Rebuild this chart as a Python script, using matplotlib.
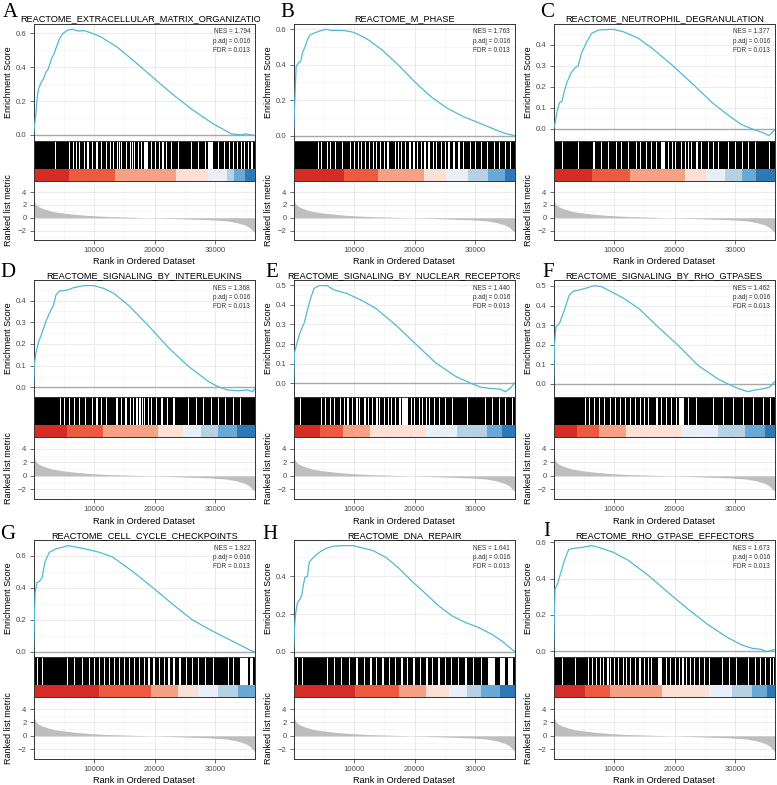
import numpy as np
import matplotlib
matplotlib.use("Agg")
import matplotlib.pyplot as plt
from matplotlib.ticker import MultipleLocator, FixedLocator
from matplotlib.transforms import Bbox, TransformedBbox

# ---- data (ranks in thousands) ----
N_RANK = 36.6

LETTERS = ['A', 'B', 'C', 'D', 'E', 'F', 'G', 'H', 'I']
TITLES = ['REACTOME_EXTRACELLULAR_MATRIX_ORGANIZATION', 'REACTOME_M_PHASE',
          'REACTOME_NEUTROPHIL_DEGRANULATION', 'REACTOME_SIGNALING_BY_INTERLEUKINS',
          'REACTOME_SIGNALING_BY_NUCLEAR_RECEPTORS', 'REACTOME_SIGNALING_BY_RHO_GTPASES',
          'REACTOME_CELL_CYCLE_CHECKPOINTS', 'REACTOME_DNA_REPAIR',
          'REACTOME_RHO_GTPASE_EFFECTORS']
NES = [1.794, 1.763, 1.377, 1.368, 1.440, 1.462, 1.922, 1.641, 1.673]
PADJ = [0.016] * 9
FDR = [0.013] * 9
ES_STEP = [0.2, 0.2, 0.1, 0.1, 0.1, 0.1, 0.2, 0.2, 0.2]

ES_RANK_A = [0, 0.44, 0.60, 0.82, 1.25, 1.63, 2.06, 2.44, 2.98, 3.41, 3.79, 4.33, 4.87, 5.68, 6.49,
             7.30, 8.38, 9.46, 11.08, 13.78, 16.49, 19.73, 22.97, 26.21, 29.46, 32.70, 34.32, 35.13,
             35.94, 36.6]
ES_A = [0, 0.14, 0.22, 0.27, 0.31, 0.33, 0.37, 0.39, 0.45, 0.48, 0.52, 0.57, 0.60, 0.62, 0.624,
        0.614, 0.616, 0.604, 0.58, 0.52, 0.44, 0.34, 0.24, 0.15, 0.07, 0.006, 0.0, 0.006, 0.0, -0.005]

ES_RANK_B = [0, 0.43, 0.8, 1.2, 1.5, 1.9, 2.4, 2.8, 3.5, 4.3, 5.4, 6.2, 7.6, 8.6, 9.7, 10.8, 12.4,
             14.6, 17.3, 20.0, 22.7, 25.4, 28.1, 30.8, 33.5, 34.9, 36.6]
ES_B = [0, 0.39, 0.41, 0.42, 0.47, 0.50, 0.55, 0.57, 0.58, 0.59, 0.60, 0.594, 0.594, 0.592, 0.585,
        0.57, 0.54, 0.485, 0.40, 0.305, 0.22, 0.155, 0.107, 0.07, 0.032, 0.013, 0.0]

ES_RANK_C = [0, 0.2, 0.6, 1.0, 1.4, 1.8, 2.2, 3.0, 3.6, 4.1, 4.6, 5.5, 6.3, 7.5, 9.9, 11.6, 14.0,
             16.4, 19.7, 23.0, 26.2, 29.1, 31.1, 33.1, 34.8, 35.6, 36.0, 36.6]
ES_C = [0, 0.02, 0.085, 0.125, 0.13, 0.18, 0.22, 0.27, 0.29, 0.30, 0.357, 0.413, 0.453, 0.469,
        0.472, 0.46, 0.43, 0.38, 0.30, 0.213, 0.125, 0.06, 0.02, -0.003, -0.02, -0.032, -0.02,
        -0.003]

ES_RANK_D = [0, 0.16, 0.4, 0.8, 1.4, 2.0, 2.6, 3.3, 3.7, 4.3, 5.5, 6.7, 8.4, 10.0, 11.6, 13.3, 15.7,
             19.0, 22.3, 25.6, 28.9, 30.5, 32.1, 33.8, 35.4, 36.2, 36.6]
ES_D = [0, 0.11, 0.16, 0.206, 0.25, 0.30, 0.34, 0.378, 0.425, 0.444, 0.448, 0.46, 0.469, 0.469,
        0.456, 0.433, 0.378, 0.284, 0.183, 0.097, 0.027, 0.003, -0.012, -0.016, -0.012, -0.02,
        -0.005]

ES_RANK_E = [0, 0.16, 0.6, 1.1, 1.8, 2.2, 2.8, 3.4, 4.3, 5.5, 6.7, 8.8, 11.2, 13.7, 17.0, 20.2,
             23.5, 26.8, 29.3, 30.9, 32.5, 34.2, 35.0, 35.8, 36.6]
ES_E = [0, 0.156, 0.208, 0.26, 0.31, 0.363, 0.43, 0.484, 0.498, 0.498, 0.476, 0.458, 0.424, 0.38,
        0.294, 0.2, 0.104, 0.035, 0.0, -0.02, -0.026, -0.03, -0.043, -0.026, 0.003]

ES_RANK_F = [0, 0.16, 0.4, 1.0, 1.8, 2.6, 3.3, 4.2, 5.5, 6.7, 7.9, 9.6, 11.6, 14.1, 17.3, 20.6,
             23.9, 27.1, 28.8, 30.4, 32.1, 33.3, 34.5, 35.7, 36.6]
ES_F = [0, 0.197, 0.29, 0.31, 0.377, 0.454, 0.474, 0.479, 0.49, 0.502, 0.497, 0.47, 0.437, 0.385,
        0.29, 0.197, 0.094, 0.026, 0.0, -0.022, -0.04, -0.031, -0.026, -0.017, 0.012]

ES_RANK_G = [0, 0.27, 0.55, 1.0, 1.4, 1.9, 2.6, 3.6, 4.6, 5.7, 7.1, 8.7, 10.9, 13.1, 16.4, 19.7,
             23.0, 26.2, 29.5, 32.8, 36.1, 36.6]
ES_G = [0, 0.37, 0.43, 0.44, 0.46, 0.56, 0.62, 0.64, 0.65, 0.662, 0.652, 0.64, 0.62, 0.59, 0.50,
        0.40, 0.296, 0.20, 0.13, 0.067, 0.004, 0.0]

ES_RANK_H = [0, 0.16, 0.33, 0.65, 1.1, 1.4, 1.6, 1.9, 2.3, 2.6, 3.0, 3.6, 4.4, 5.5, 6.6, 8.2, 9.8,
             11.5, 13.1, 15.3, 17.5, 19.7, 21.9, 24.0, 26.2, 28.4, 30.6, 32.8, 34.4, 36.1, 36.6]
ES_H = [0, 0.12, 0.2, 0.26, 0.28, 0.306, 0.35, 0.395, 0.40, 0.475, 0.49, 0.51, 0.53, 0.55, 0.56,
        0.563, 0.563, 0.55, 0.537, 0.50, 0.44, 0.37, 0.306, 0.243, 0.19, 0.155, 0.128, 0.092,
        0.057, 0.012, 0.0]

ES_RANK_I = [0, 0.25, 0.65, 1.15, 1.8, 2.5, 3.4, 4.7, 6.3, 7.5, 9.9, 12.4, 15.7, 18.9, 22.2, 25.4,
             28.7, 31.1, 32.8, 34.4, 35.2, 36.6]
ES_I = [0, 0.343, 0.37, 0.426, 0.5, 0.56, 0.567, 0.572, 0.582, 0.572, 0.545, 0.5, 0.417, 0.325,
        0.233, 0.15, 0.077, 0.035, 0.017, 0.01, -0.002, 0.01]

# stretches of the ranked list with no gene-set hit: (start, width)
GAPS_A = [(1.2, .12), (3.6, .12), (5.9, .2), (6.5, .15), (7.0, .15), (7.5, .2), (8.4, .15),
          (8.9, .2), (9.6, .15), (10.4, .2), (11.2, .15), (12.0, .2), (12.6, .15), (13.1, .2),
          (13.8, .15), (14.2, .12), (14.5, .15), (14.9, .12), (15.3, .15), (15.9, .15),
          (16.3, .12), (16.6, .15), (17.2, .15), (17.8, .15), (18.3, .7), (19.4, .15), (20.0, .2),
          (20.7, .15), (21.3, .2), (21.9, .15), (22.7, .2), (23.3, .15), (23.8, .2), (24.3, .15),
          (26.0, .2), (27.2, .15), (28.4, .15), (28.9, .8), (30.5, .2), (31.5, .15), (32.3, .2),
          (33.0, .15), (33.6, .2), (34.3, .15), (34.8, .2), (35.4, .15), (36.0, .2)]
GAPS_B = [(1.5, .1), (4.0, .15), (4.6, .12), (5.5, .15), (6.1, .12), (6.8, .15), (7.3, .12),
          (8.0, .15), (8.8, .12), (9.3, .15), (10.0, .12), (10.6, .15), (11.2, .12), (11.8, .15),
          (12.5, .2), (13.1, .15), (13.7, .12), (14.3, .2), (14.9, .15), (15.5, .2), (16.2, .15),
          (16.7, .2), (17.2, .25), (17.8, .15), (18.4, .2), (19.1, .3), (19.8, .2), (20.4, .2),
          (21.0, .25), (21.6, .3), (22.3, .2), (23.0, .25), (23.6, .15), (24.3, .3), (25.0, .2),
          (25.6, .2), (26.4, .25), (27.2, .3), (28.0, .2), (29.2, .2), (30.0, .15), (31.0, .2),
          (32.0, .2), (33.2, .15), (34.0, .2), (35.0, .15), (35.8, .2)]
GAPS_C = [(1.4, .12), (4.0, .15), (6.6, .2), (7.8, .15), (9.0, .2), (10.3, .15), (11.1, .15),
          (12.3, .2), (13.6, .15), (14.3, .15), (15.3, .2), (16.1, .15), (16.9, .2), (17.8, .7),
          (18.9, .2), (19.6, .15), (20.1, .2), (21.0, .2), (21.7, .15), (22.2, .2), (22.8, .15),
          (23.6, .2), (24.4, .15), (25.6, .15), (26.4, .15), (27.2, .15), (28.1, .12), (28.9, .15),
          (30.0, .12), (31.1, .15), (32.2, .12), (33.3, .15), (34.4, .12), (35.6, .15)]
GAPS_D = [(4.4, .15), (5.1, .15), (5.9, .15), (6.7, .15), (7.5, .15), (8.5, .2), (9.6, .15),
          (10.4, .2), (11.2, .15), (12.0, .2), (12.9, .15), (13.7, .2), (14.5, .15), (15.1, .3),
          (15.9, .2), (16.4, .2), (16.7, .12), (17.0, .2), (17.5, .2), (17.9, .12), (18.2, .2),
          (18.9, .2), (19.4, .25), (20.2, .2), (21.1, .25), (22.1, .2), (23.1, .2), (24.3, .15),
          (25.6, .15), (26.8, .15), (28.0, .15), (29.3, .15), (30.5, .15), (31.7, .15),
          (33.0, .12), (34.2, .15), (35.4, .12)]
GAPS_E = [(1.1, .1), (4.6, .15), (5.2, .15), (6.0, .15), (6.7, .15), (7.7, .2), (8.3, .15),
          (8.9, .2), (9.6, .15), (10.4, .2), (10.9, .15), (11.7, .2), (12.3, .15), (13.0, .2),
          (13.7, .2), (14.2, .15), (14.9, .2), (15.6, .2), (16.1, .15), (16.8, .2), (17.5, .2),
          (18.0, .9), (19.4, .2), (19.9, .2), (20.7, .2), (21.3, .15), (21.9, .2), (22.4, .15),
          (23.2, .15), (24.0, .15), (25.1, .15), (26.2, .15), (27.3, .12), (28.7, .15),
          (30.1, .12), (31.7, .15), (32.8, .12), (33.9, .15), (35.0, .12), (36.1, .15)]
GAPS_F = [(2.2, .1), (5.2, .15), (5.9, .15), (6.7, .15), (7.5, .15), (8.4, .15), (9.3, .2),
          (10.2, .15), (11.0, .2), (11.8, .15), (12.6, .2), (13.4, .15), (14.3, .2), (14.9, .15),
          (15.6, .2), (16.2, .15), (17.0, .2), (17.8, .2), (18.6, .2), (19.4, .2), (20.2, .2),
          (20.8, .7), (22.3, .15), (23.5, .15), (24.8, .15), (26.4, .15), (28.0, .12),
          (29.7, .15), (31.3, .12), (32.9, .15), (34.6, .12), (35.8, .15)]
GAPS_G = [(0.6, .1), (1.4, .1), (2.2, .1), (3.0, .12), (4.3, .12), (5.5, .12), (6.7, .15),
          (8.0, .15), (9.2, .15), (10.0, .2), (10.8, .15), (11.6, .2), (12.5, .15), (13.3, .2),
          (14.1, .15), (14.9, .2), (15.7, .2), (16.6, .2), (17.4, .2), (18.2, .25), (19.0, .2),
          (19.8, .25), (20.7, .2), (21.5, .25), (22.3, .2), (23.1, .25), (24.1, .2), (25.2, .2),
          (26.2, .2), (27.2, .2), (28.4, .15), (29.7, .15), (30.9, .15), (32.1, .15), (33.0, .15),
          (34.2, 1.2), (35.8, .4)]
GAPS_H = [(0.6, .1), (1.4, .1), (2.2, .1), (3.2, .1), (4.3, .12), (5.5, .12), (6.7, .12),
          (7.9, .15), (9.2, .15), (10.4, .2), (11.6, .15), (12.7, .2), (13.7, .15), (14.7, .2),
          (15.7, .2), (16.8, .2), (17.8, .25), (18.8, .2), (19.8, .25), (20.9, .2), (21.9, .25),
          (22.9, .2), (23.9, .25), (25.0, .2), (26.0, .2), (27.2, .2), (28.4, .2), (29.7, .2),
          (30.9, .2), (32.1, 1.2), (34.2, .8), (35.4, .8)]
GAPS_I = [(1.4, .1), (3.6, .1), (5.7, .15), (6.3, .15), (7.0, .15), (7.7, .15), (8.2, .15),
          (8.9, .2), (9.3, .15), (10.0, .2), (10.7, .15), (11.5, .2), (12.0, .15), (12.6, .2),
          (13.4, .15), (14.2, .2), (14.9, .15), (15.6, .2), (16.1, .15), (17.2, .8), (18.6, .2),
          (19.3, .15), (20.0, .2), (20.7, .15), (21.3, .2), (21.9, .15), (22.5, .2), (23.2, .15),
          (24.0, .15), (24.9, .15), (25.7, .15), (26.8, .12), (27.9, .15), (29.0, .12),
          (30.1, .15), (31.1, .12), (32.2, .15), (33.3, .12), (34.2, .15), (35.0, .12),
          (35.8, .15), (36.3, .1)]

# colour-bin edges of the ranked list
BIN_EDGES_A = [0, 5.8, 13.4, 23.5, 28.8, 32.0, 33.1, 34.9, 36.6]
BIN_EDGES_B = [0, 8.4, 13.9, 21.5, 25.2, 28.9, 32.1, 35.0, 36.6]
BIN_EDGES_C = [0, 6.3, 12.6, 21.7, 25.2, 28.3, 31.1, 33.5, 36.6]
BIN_EDGES_D = [0, 5.5, 11.5, 20.6, 24.7, 27.6, 30.5, 33.6, 36.6]
BIN_EDGES_E = [0, 4.4, 8.2, 12.6, 21.9, 27.0, 32.0, 34.4, 36.6]
BIN_EDGES_F = [0, 3.9, 7.5, 12.0, 21.0, 27.2, 31.7, 35.0, 36.6]
BIN_EDGES_G = [0, 10.8, 19.4, 23.9, 27.2, 30.5, 33.8, 36.6]
BIN_EDGES_H = [0, 10.1, 17.5, 21.9, 25.7, 28.6, 30.9, 34.2, 36.6]
BIN_EDGES_I = [0, 5.2, 9.3, 18.0, 25.7, 29.5, 32.8, 35.2, 36.6]
BIN_COLORS = ['#D42C26', '#EC5A40', '#F6A184', '#FCE0D3', '#E9EEF8', '#B7D1E4', '#6AA9D3', '#2F78B8']

# ranked list metric (shared)
METRIC_RANK = [0, 0.15, 0.4, 0.8, 1.4, 2.2, 3.2, 4.6, 6.5, 9.2, 12.4, 16.2, 19.5, 22.7, 25.9, 29.2,
               31.9, 33.5, 34.9, 35.7, 36.2, 36.6]
METRIC = [3.1, 2.6, 2.1, 1.76, 1.5, 1.24, 0.98, 0.78, 0.57, 0.36, 0.2, 0.1, 0.0, -0.1, -0.2, -0.3,
          -0.47, -0.73, -1.1, -1.5, -2.0, -2.3]

ES_RANKS = [ES_RANK_A, ES_RANK_B, ES_RANK_C, ES_RANK_D, ES_RANK_E, ES_RANK_F, ES_RANK_G, ES_RANK_H, ES_RANK_I]
ES_VALS = [ES_A, ES_B, ES_C, ES_D, ES_E, ES_F, ES_G, ES_H, ES_I]
GAPS = [GAPS_A, GAPS_B, GAPS_C, GAPS_D, GAPS_E, GAPS_F, GAPS_G, GAPS_H, GAPS_I]
BIN_EDGES = [BIN_EDGES_A, BIN_EDGES_B, BIN_EDGES_C, BIN_EDGES_D, BIN_EDGES_E, BIN_EDGES_F,
             BIN_EDGES_G, BIN_EDGES_H, BIN_EDGES_I]

# ---- layout (pixels) ----
W, H = 777, 785
COL_LEFT = [33.5, 293.5, 553.5]
COL_W = 221.5
ROWS = [(24, 141, 180.5, 240), (280.3, 397, 436.5, 499.3), (540.3, 657, 697, 759)]
LETTER_POS = [(2.5, 16.7), (280, 16.7), (540, 16.7), (0.5, 277), (265, 277), (542.6, 277),
              (0.5, 538.7), (262.6, 538.7), (543.5, 535.5)]
CB_FRAC = 0.3

plt.rcParams['font.family'] = ['Liberation Sans', 'DejaVu Sans']
LINE = '#333333'
GRID_MAJ = '#E8E8E8'
GRID_MIN = '#F2F2F2'
TICK_COL = '#4D4D4D'

fig = plt.figure(figsize=(W / 100, H / 100), dpi=100)


def px_axes(left, top, bottom):
    return fig.add_axes([left / W, 1 - bottom / H, COL_W / W, (bottom - top) / H])


def style(ax):
    for s in ax.spines.values():
        s.set_color(LINE)
        s.set_linewidth(0.7)
    ax.tick_params(which='major', length=2.75, width=0.5, color=LINE, labelsize=5.6,
                   labelcolor=TICK_COL, pad=2.2)
    ax.tick_params(which='minor', length=0)


def grid(ax):
    ax.grid(True, which='major', color=GRID_MAJ, lw=0.6)
    ax.grid(True, which='minor', color=GRID_MIN, lw=0.4)
    ax.set_axisbelow(True)


for i in range(9):
    r, c = divmod(i, 3)
    es_top, bc_top, rk_top, rk_bot = ROWS[r]
    left = COL_LEFT[c]

    # running enrichment score
    ax1 = px_axes(left, es_top, bc_top)
    es = np.array(ES_VALS[i])
    x = np.array(ES_RANKS[i]) * 1000
    rng = es.max() - es.min()
    ax1.set_xlim(0, N_RANK * 1000)
    ax1.set_ylim(es.min() - 0.05 * rng, es.max() + 0.05 * rng)
    ax1.xaxis.set_major_locator(MultipleLocator(10000))
    ax1.xaxis.set_minor_locator(MultipleLocator(5000))
    ax1.yaxis.set_major_locator(MultipleLocator(ES_STEP[i]))
    ax1.yaxis.set_minor_locator(MultipleLocator(ES_STEP[i] / 2))
    grid(ax1)
    style(ax1)
    ax1.tick_params(axis='x', which='both', bottom=False, labelbottom=False)
    ax1.yaxis.set_major_formatter(matplotlib.ticker.FormatStrFormatter('%.1f'))
    ax1.axhline(0, color='#A8A8A8', lw=1.0, zorder=1.5)
    ax1.plot(x, es, color='#4FBAD6', lw=0.9, zorder=3)
    ax1.set_ylabel('Enrichment Score', fontsize=6.5)
    ax1.yaxis.set_label_coords(-20.5 / COL_W, 0.5)
    h1 = bc_top - es_top
    for k, s in enumerate([f'NES = {NES[i]:.3f}', f'p.adj = {PADJ[i]:.3f}', f'FDR = {FDR[i]:.3f}']):
        ax1.text(1 - 4.8 / COL_W, 1 - (7.8 + 9.3 * k) / h1, s, transform=ax1.transAxes,
                 ha='right', va='center', fontsize=4.7, color='#333333')
    t = ax1.set_title(TITLES[i], fontsize=6.6, pad=1.8)
    cell = Bbox([[c * 260 / W, 0], [min((c + 1) * 260, W) / W, 1]])
    t.set_clip_box(TransformedBbox(cell, fig.transFigure))
    t.set_clip_on(True)

    # gene hits and coloured rank bins
    ax2 = px_axes(left, bc_top, rk_top)
    ax2.set_xlim(0, N_RANK * 1000)
    ax2.set_ylim(0, 1)
    ax2.broken_barh([(0, N_RANK * 1000)], (CB_FRAC, 1 - CB_FRAC), facecolors='black', lw=0)
    ax2.broken_barh([(s * 1000, w * 1000) for s, w in GAPS[i]], (CB_FRAC, 1 - CB_FRAC),
                    facecolors='white', lw=0)
    edges = BIN_EDGES[i]
    ax2.broken_barh([(edges[k] * 1000, (edges[k + 1] - edges[k]) * 1000) for k in range(len(edges) - 1)],
                    (0, CB_FRAC), facecolors=BIN_COLORS[:len(edges) - 1], lw=0)
    style(ax2)
    ax2.set_xticks([])
    ax2.set_yticks([])

    # ranked list metric
    ax3 = px_axes(left, rk_top, rk_bot)
    ax3.set_xlim(0, N_RANK * 1000)
    ax3.set_ylim(-3.45, 5.8)
    ax3.xaxis.set_major_locator(FixedLocator([10000, 20000, 30000]))
    ax3.xaxis.set_minor_locator(MultipleLocator(5000))
    ax3.yaxis.set_major_locator(FixedLocator([-2, 0, 2, 4]))
    ax3.yaxis.set_minor_locator(FixedLocator([-3, -1, 1, 3, 5]))
    grid(ax3)
    style(ax3)
    ax3.fill_between(np.array(METRIC_RANK) * 1000, 0, METRIC, color='#BEBEBE', lw=0, zorder=2)
    ax3.set_ylabel('Ranked list metric', fontsize=6.5)
    ax3.yaxis.set_label_coords(-20.5 / COL_W, 0.5)
    ax3.set_xlabel('Rank in Ordered Dataset', fontsize=6.6, labelpad=2.5)

    lx, ly = LETTER_POS[i]
    fig.text(lx / W, 1 - ly / H, LETTERS[i], fontsize=15, family='Liberation Serif',
             ha='left', va='baseline')

fig.savefig('out.png', dpi=100)
